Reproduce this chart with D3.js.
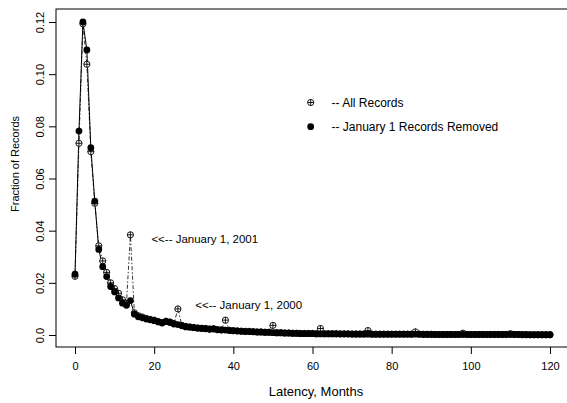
<!DOCTYPE html>
<html>
<head>
<meta charset="utf-8">
<script src="https://cdn.jsdelivr.net/npm/d3@7"></script>
<style>
  html, body { margin: 0; padding: 0; background: #fff; }
  svg { display: block; }
  text { font-family: "Liberation Sans", Arial, sans-serif; fill: #000; }
</style>
</head>
<body>
<svg id="chart" width="567" height="403"></svg>
<script>
// Latency in months, 0..120
const months = d3.range(0, 121);

// Fraction of records, all records included (January 1 spikes every 12 months from 14)
const allRecords = [
  0.0225, 0.0735, 0.1193, 0.1038, 0.0703, 0.0505, 0.0342, 0.0284, 0.0240, 0.0200,
  0.0178, 0.0160, 0.0135, 0.0122, 0.0384, 0.0085, 0.0074, 0.0069, 0.0064, 0.0060,
  0.0057, 0.0052, 0.0048, 0.0053, 0.0050, 0.0044, 0.0100, 0.0037, 0.0033, 0.0031,
  0.0029, 0.0027, 0.0026, 0.0025, 0.0023, 0.0024, 0.0021, 0.0020, 0.0057, 0.0018,
  0.0017, 0.0016, 0.0015, 0.0014, 0.0014, 0.0013, 0.0012, 0.0012, 0.0011, 0.0011,
  0.0037, 0.0009, 0.0009, 0.0008, 0.0008, 0.0007, 0.0007, 0.0006, 0.0006, 0.0006,
  0.0006, 0.0005, 0.0025, 0.0005, 0.0005, 0.0005, 0.0005, 0.0004, 0.0004, 0.0004,
  0.0004, 0.0004, 0.0004, 0.0004, 0.0017, 0.0003, 0.0003, 0.0003, 0.0003, 0.0003,
  0.0003, 0.0003, 0.0003, 0.0003, 0.0003, 0.0003, 0.0012, 0.0003, 0.0003, 0.0003,
  0.0003, 0.0002, 0.0002, 0.0002, 0.0002, 0.0002, 0.0002, 0.0002, 0.0007, 0.0002,
  0.0002, 0.0002, 0.0002, 0.0002, 0.0002, 0.0002, 0.0002, 0.0002, 0.0002, 0.0002,
  0.0005, 0.0002, 0.0002, 0.0002, 0.0002, 0.0001, 0.0001, 0.0001, 0.0001, 0.0001,
  0.0001
];

// Fraction of records with January 1 records removed
const removed = [
  0.0233, 0.0782, 0.1200, 0.1093, 0.0718, 0.0513, 0.0328, 0.0262, 0.0224, 0.0186,
  0.0165, 0.0142, 0.0122, 0.0114, 0.0132, 0.0080, 0.0070, 0.0066, 0.0061, 0.0058,
  0.0055, 0.0050, 0.0046, 0.0051, 0.0048, 0.0042, 0.0040, 0.0035, 0.0031, 0.0030,
  0.0028, 0.0026, 0.0025, 0.0024, 0.0022, 0.0023, 0.0020, 0.0019, 0.0019, 0.0017,
  0.0016, 0.0015, 0.0014, 0.0013, 0.0013, 0.0012, 0.0011, 0.0011, 0.0010, 0.0010,
  0.0009, 0.0008, 0.0008, 0.0007, 0.0007, 0.0006, 0.0006, 0.0005, 0.0005, 0.0005,
  0.0005, 0.0004, 0.0004, 0.0004, 0.0004, 0.0004, 0.0004, 0.0004, 0.0004, 0.0004,
  0.0003, 0.0003, 0.0003, 0.0003, 0.0003, 0.0003, 0.0003, 0.0003, 0.0003, 0.0003,
  0.0003, 0.0003, 0.0003, 0.0003, 0.0003, 0.0003, 0.0003, 0.0003, 0.0002, 0.0002,
  0.0002, 0.0002, 0.0002, 0.0002, 0.0002, 0.0002, 0.0002, 0.0002, 0.0002, 0.0002,
  0.0002, 0.0002, 0.0002, 0.0002, 0.0002, 0.0002, 0.0002, 0.0002, 0.0002, 0.0002,
  0.0002, 0.0002, 0.0002, 0.0001, 0.0001, 0.0001, 0.0001, 0.0001, 0.0001, 0.0001,
  0.0001
];

const xTicks = [0, 20, 40, 60, 80, 100, 120];
const yTicks = [0, 0.02, 0.04, 0.06, 0.08, 0.10, 0.12];
const yTickLabels = ["0.0", "0.02", "0.04", "0.06", "0.08", "0.10", "0.12"];

const xTitle = "Latency, Months";
const yTitle = "Fraction of Records";
const legendLabels = ["-- All Records", "-- January 1 Records Removed"];
// annotation text, anchored in data units (month, fraction)
const noteTexts = ["<<-- January 1, 2001", "<<-- January 1, 2000"];
const noteMonths = [19.3, 30.4];
const noteValues = [0.0353, 0.0100];

const svg = d3.select("#chart");

// plotting region (frame runs off the right edge)
const box = { left: 56, top: 9, right: 580, bottom: 347 };

const x = d3.scaleLinear().domain([0, 120]).range([75, 550]);
const y = d3.scaleLinear().domain([0, 0.12]).range([335, 22]);

// frame
svg.append("rect")
  .attr("x", box.left).attr("y", box.top)
  .attr("width", box.right - box.left).attr("height", box.bottom - box.top)
  .attr("fill", "none").attr("stroke", "#000").attr("stroke-width", 1);

// x axis
const xAxis = d3.axisBottom(x).tickValues(xTicks).tickSize(7).tickPadding(8)
  .tickFormat(d3.format("d"));
const gx = svg.append("g").attr("transform", `translate(0,${box.bottom})`).call(xAxis);
gx.select(".domain").remove();
gx.selectAll("text").attr("font-size", 11).attr("font-family", "Liberation Sans, Arial, sans-serif");

// y axis with rotated labels
const yAxis = d3.axisLeft(y).tickValues(yTicks).tickSize(7)
  .tickFormat((d, i) => yTickLabels[i]);
const gy = svg.append("g").attr("transform", `translate(${box.left},0)`).call(yAxis);
gy.select(".domain").remove();
gy.selectAll("text")
  .attr("font-size", 11)
  .attr("font-family", "Liberation Sans, Arial, sans-serif")
  .attr("x", null).attr("dy", null)
  .attr("text-anchor", "middle")
  .attr("transform", "translate(-12,0) rotate(-90)");

// axis titles
svg.append("text")
  .attr("x", 316).attr("y", 396)
  .attr("text-anchor", "middle").attr("font-size", 13)
  .text(xTitle);
svg.append("text")
  .attr("transform", "translate(19,164) rotate(-90)")
  .attr("text-anchor", "middle").attr("font-size", 11)
  .text(yTitle);

const allData = months.map((m, i) => ({ m, v: allRecords[i] }));
const remData = months.map((m, i) => ({ m, v: removed[i] }));

const line = d3.line().x(d => x(d.m)).y(d => y(d.v));

// connecting lines
svg.append("path").datum(allData)
  .attr("d", line).attr("fill", "none")
  .attr("stroke", "#000").attr("stroke-width", 0.8)
  .attr("stroke-dasharray", "1.5,2,4,2");
svg.append("path").datum(remData)
  .attr("d", line).attr("fill", "none")
  .attr("stroke", "#000").attr("stroke-width", 1);

// circled-plus markers
function crossCircle(g, cx, cy, r) {
  g.append("circle").attr("cx", cx).attr("cy", cy).attr("r", r)
    .attr("fill", "#fff").attr("stroke", "#000").attr("stroke-width", 0.9);
  g.append("line").attr("x1", cx - r).attr("x2", cx + r).attr("y1", cy).attr("y2", cy)
    .attr("stroke", "#000").attr("stroke-width", 0.9);
  g.append("line").attr("x1", cx).attr("x2", cx).attr("y1", cy - r).attr("y2", cy + r)
    .attr("stroke", "#000").attr("stroke-width", 0.9);
}

const gAll = svg.append("g");
allData.forEach(d => crossCircle(gAll, x(d.m), y(d.v), 3.1));

svg.append("g").selectAll("circle").data(remData).join("circle")
  .attr("cx", d => x(d.m)).attr("cy", d => y(d.v)).attr("r", 3.4)
  .attr("fill", "#000");

// annotations beside the January 1 spikes
svg.append("g").selectAll("text").data(noteTexts).join("text")
  .attr("x", (d, i) => x(noteMonths[i]))
  .attr("y", (d, i) => y(noteValues[i]))
  .attr("font-size", 11.5)
  .text(d => d);

// legend
const lg = svg.append("g");
crossCircle(lg, 310.7, 102.5, 3.1);
lg.append("circle").attr("cx", 310.7).attr("cy", 126.7).attr("r", 3.4).attr("fill", "#000");
lg.append("text").attr("x", 331.5).attr("y", 106.7).attr("font-size", 12).text(legendLabels[0]);
lg.append("text").attr("x", 331.5).attr("y", 130.7).attr("font-size", 12).text(legendLabels[1]);
</script>
</body>
</html>
